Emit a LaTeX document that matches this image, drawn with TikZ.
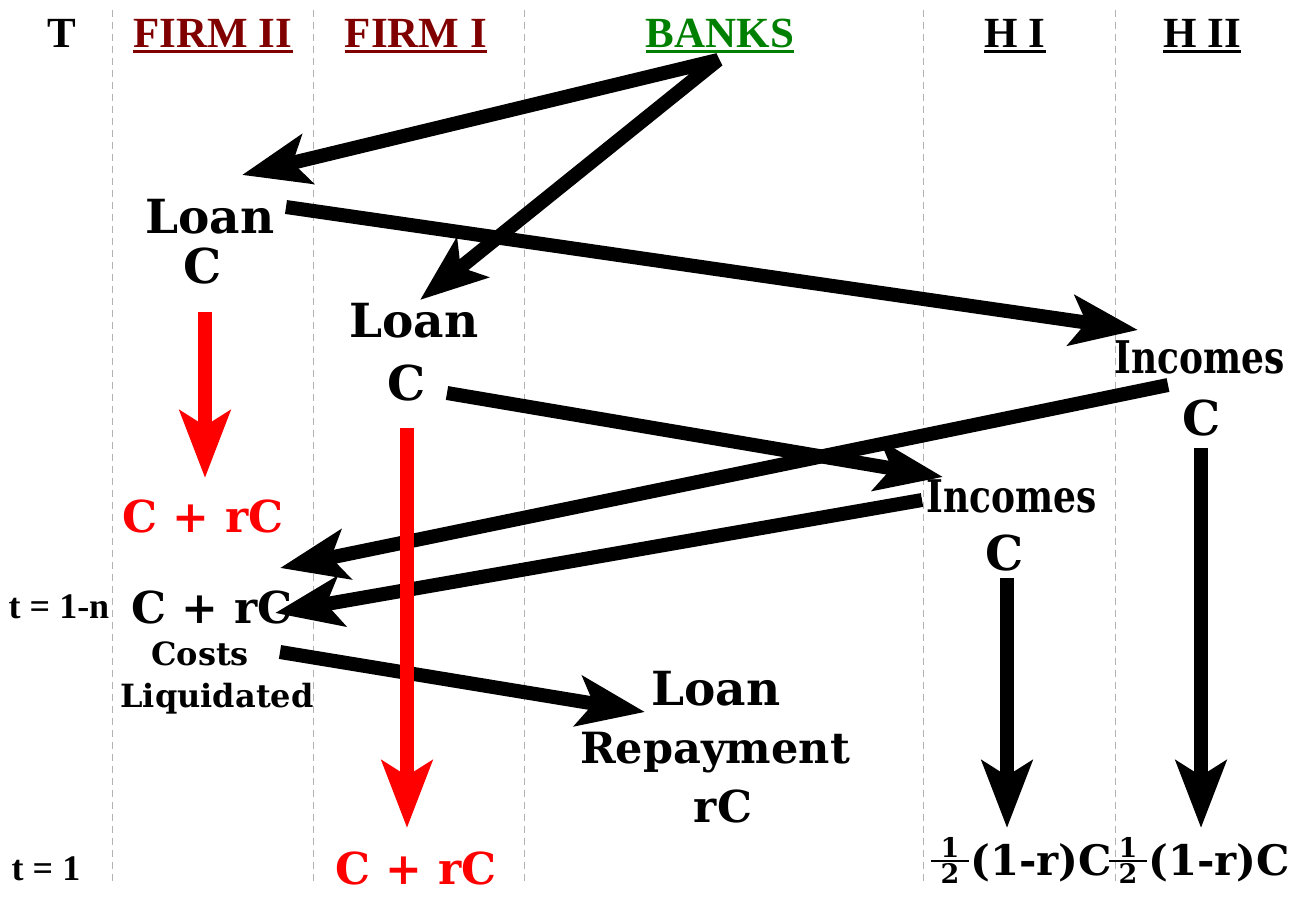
\documentclass[tikz,border=0pt]{standalone}
\usepackage{fontspec}
\usepackage{amsmath}
\usepackage{graphicx}
\setmainfont{Liberation Serif}
\newfontfamily\lab{DejaVu Serif}
\usetikzlibrary{arrows.meta}
\definecolor{firmred}{RGB}{128,0,0}
\definecolor{bankgreen}{RGB}{0,128,0}
\newcommand\myhalf{\raisebox{8pt}{$\genfrac{}{}{1.6pt}{}{\hbox{\fontsize{27}{27}\selectfont\makebox[38pt]{1}}}{\hbox{\fontsize{27}{27}\selectfont\makebox[38pt]{2}}}$}}
\begin{document}
\begin{tikzpicture}[x=1pt,y=-1pt,
  hdr/.style={font=\bfseries\fontsize{43}{43}\selectfont, inner sep=0pt, anchor=base},
  tlab/.style={font=\bfseries\fontsize{36}{36}\selectfont, inner sep=0pt, anchor=base},
  lbl/.style={font=\lab\bfseries\fontsize{#1}{#1}\selectfont, inner sep=0pt, anchor=base},
  lbl/.default=44,
  uline/.style={line width=3pt},
  grid/.style={gray!60, dash pattern=on 7pt off 5pt, line width=1pt},
  flow/.style={line width=14pt, -{Stealth[length=67pt,width=50pt,inset=15pt]}},
  flowred/.style={flow, red}]
\useasboundingbox (0,0) rectangle (1300,897);
% column separators
\foreach \x in {112,313,524,923,1115} \draw[grid] (\x,10) -- (\x,885);
% headers
\node[hdr] (hT) at (62,47) {T};
\node[hdr, text=firmred] (hF2) at (213,47) {FIRM II};
\node[hdr, text=firmred] (hF1) at (416,47) {FIRM I};
\node[hdr, text=bankgreen] (hB) at (720,47) {BANKS};
\node[hdr] (hH1) at (1015,47) {H I};
\node[hdr] (hH2) at (1202,47) {H II};
\draw[uline, firmred] ([yshift=-4pt]hF2.base west) -- ([yshift=-4pt]hF2.base east);
\draw[uline, firmred] ([yshift=-4pt]hF1.base west) -- ([yshift=-4pt]hF1.base east);
\draw[uline, bankgreen] ([yshift=-4pt]hB.base west) -- ([yshift=-4pt]hB.base east);
\draw[uline] ([yshift=-4pt]hH1.base west) -- ([yshift=-4pt]hH1.base east);
\draw[uline] ([yshift=-4pt]hH2.base west) -- ([yshift=-4pt]hH2.base east);
% time labels
\node[tlab] (t1n) at (59,618) {t = 1-n};
\node[tlab] (t1) at (46,880) {t = 1};
% labels
\node[lbl=47] (loanA) at (210,233) {Loan};
\node[lbl=48] (cA) at (203,283) {C};
\node[lbl=47] (loanB) at (414,337) {Loan};
\node[lbl=48] (cB) at (407,400) {C};
\node[lbl=45] (incR) at (1200,373) {\scalebox{0.8}[1]{Incomes}};
\node[lbl=48] (cR) at (1202,435) {C};
\node[lbl=45] (incL) at (1012,512) {\scalebox{0.8}[1]{Incomes}};
\node[lbl=48] (cL) at (1005,570) {C};
\node[lbl, text=red] (crcA) at (203,532) {C + rC};
\node[lbl] (crcB) at (212,623) {C + rC};
\node[lbl=32] (costs) at (200,665) {Costs};
\node[lbl=32] (liq) at (217,707) {Liquidated};
\node[lbl=47] (repL) at (716,705) {Loan};
\node[lbl=43] (rep) at (715,763) {Repayment};
\node[lbl=44] (reprc) at (723,822) {rC};
\node[lbl, text=red] (crcC) at (416,884) {C + rC};
\node[lbl=42] (fracL) at (1021,875) {\myhalf(1-r)C};
\node[lbl=42] (fracR) at (1199,875) {\myhalf(1-r)C};
% arrow end points
\coordinate (bk) at (718,60);
\coordinate (a1e) at (242,175);
\coordinate (a2e) at (420,300);
\coordinate (a3s) at (286,207);
\coordinate (a3e) at (1138,330);
\coordinate (a4s) at (447,393);
\coordinate (a4e) at (943,477);
\coordinate (a5s) at (1168,385);
\coordinate (a5e) at (280,568);
\coordinate (a6s) at (922,500);
\coordinate (a6e) at (275,613);
\coordinate (a7s) at (280,652);
\coordinate (a7e) at (645,712);
\coordinate (a8s) at (1007,578);
\coordinate (a8e) at (1007,828);
\coordinate (a9s) at (1201,448);
\coordinate (a9e) at (1201,828);
\coordinate (r1s) at (205,312);
\coordinate (r1e) at (205,478);
\coordinate (r2s) at (407,428);
\coordinate (r2e) at (407,828);
% black flows
\draw[line width=14pt, line join=bevel, {Stealth[length=67pt,width=50pt,inset=15pt]}-{Stealth[length=67pt,width=50pt,inset=15pt]}] (a2e) -- (bk) -- (a1e);
\draw[flow] (a3s) -- (a3e);
\draw[flow] (a4s) -- (a4e);
\draw[flow] (a5s) -- (a5e);
\draw[flow] (a6s) -- (a6e);
\draw[flow] (a7s) -- (a7e);
\draw[flow] (a8s) -- (a8e);
\draw[flow] (a9s) -- (a9e);
% red flows
\draw[flowred] (r1s) -- (r1e);
\draw[flowred] (r2s) -- (r2e);
\end{tikzpicture}
\end{document}
